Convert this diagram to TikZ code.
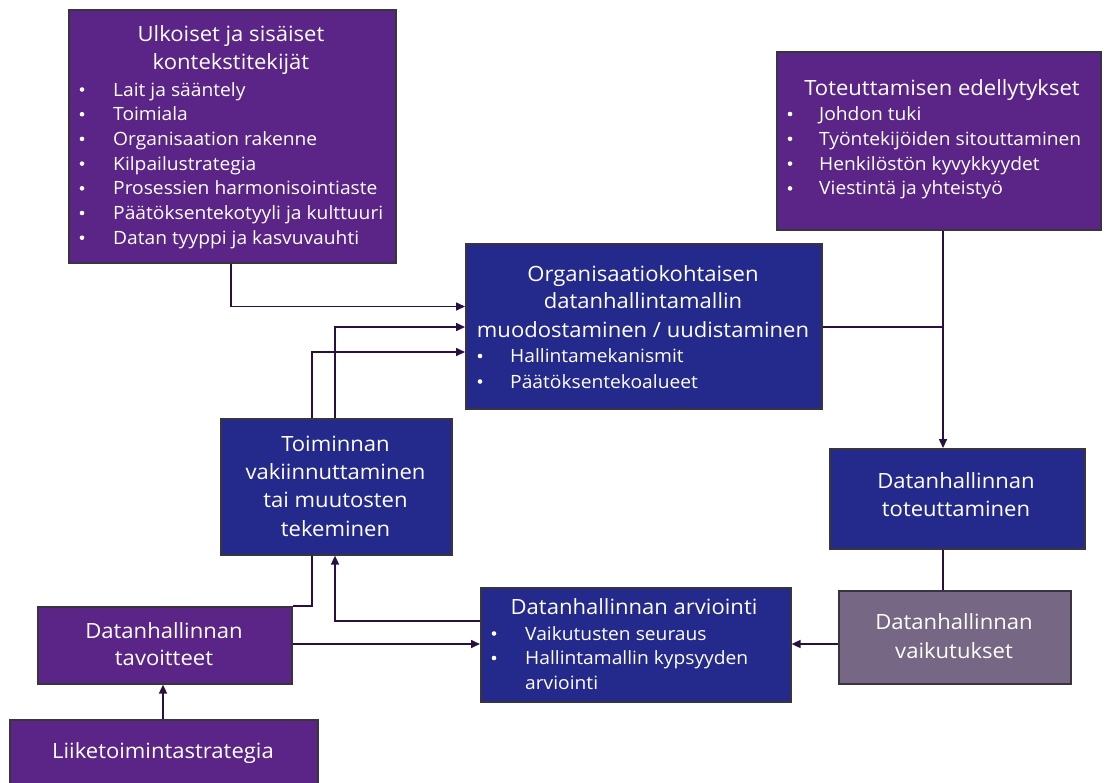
\documentclass[tikz,border=0pt]{standalone}
\usepackage{fontspec}
\setmainfont[Ligatures=NoCommon, FakeStretch=1.05]{Open Sans}
\usetikzlibrary{arrows.meta}
\definecolor{purp}{HTML}{5A2586}
\definecolor{navy}{HTML}{232A8C}
\definecolor{mauve}{HTML}{766784}
\definecolor{rim}{HTML}{3A3440}
\definecolor{wirec}{HTML}{2A1040}
\begin{document}
\begin{tikzpicture}[x=1pt,y=-1pt,
  box/.style={draw=rim, line width=1.6pt, anchor=north west, inner sep=0pt},
  ttl/.style={text=white, font=\fontsize{21}{25}\selectfont, anchor=base, inner sep=0pt},
  itm/.style={text=white, font=\fontsize{18.3}{22}\selectfont, anchor=base west, inner sep=0pt},
  dot/.style={circle, fill=white, inner sep=0pt, minimum size=4.6pt},
  wire/.style={draw=wirec, line width=1.6pt},
  arr/.style={wire, -{Triangle[length=9pt,width=8pt]}}]
\useasboundingbox (0,0) rectangle (1110,782);

% boxes
\node[box, fill=purp, minimum width=327pt, minimum height=253pt] (ctx) at (68,9) {};
\node[box, fill=purp, minimum width=324pt, minimum height=178pt] (pre) at (776,51) {};
\node[box, fill=navy, minimum width=356pt, minimum height=165pt] (model) at (465,243) {};
\node[box, fill=navy, minimum width=231pt, minimum height=136pt] (act) at (220,418) {};
\node[box, fill=navy, minimum width=255pt, minimum height=100pt] (impl) at (829,448) {};
\node[box, fill=mauve, minimum width=232pt, minimum height=93pt] (eff) at (838,590) {};
\node[box, fill=navy, minimum width=310pt, minimum height=114pt] (eval) at (480,587) {};
\node[box, fill=purp, minimum width=254pt, minimum height=77pt] (goal) at (37,606) {};
\node[box, fill=purp, minimum width=308pt, minimum height=70pt] (strat) at (9,719) {};

% context factors
\node[ttl] (ctxt1) at (231,41) {Ulkoiset ja sisäiset};
\node[ttl] (ctxt2) at (231,69) {kontekstitekijät};
\foreach \t [count=\i] in {Lait ja sääntely, Toimiala, Organisaation rakenne, Kilpailustrategia,
    Prosessien harmonisointiaste, Päätöksentekotyyli ja kulttuuri, Datan tyyppi ja kasvuvauhti}{
  \node[dot] (ctxd\i) at (82,{96+24.7*(\i-1)-6.5}) {};
  \node[itm] (ctxi\i) at (113,{96+24.7*(\i-1)}) {\t};
}

% prerequisites
\node[ttl] (pret) at (942,95.5) {Toteuttamisen edellytykset};
\foreach \t [count=\i] in {Johdon tuki, Työntekijöiden sitouttaminen, Henkilöstön kyvykkyydet, Viestintä ja yhteistyö}{
  \node[dot] (pred\i) at (790,{120.5+24.8*(\i-1)-6.5}) {};
  \node[itm] (prei\i) at (819,{120.5+24.8*(\i-1)}) {\t};
}

% governance model
\node[ttl] (modt1) at (643,281) {Organisaatiokohtaisen};
\node[ttl] (modt2) at (643,308.5) {datanhallintamallin};
\node[ttl] (modt3) at (643,337) {muodostaminen / uudistaminen};
\node[dot] (modd1) at (480,356) {};
\node[itm] (modi1) at (510,362.5) {Hallintamekanismit};
\node[dot] (modd2) at (480,381.5) {};
\node[itm] (modi2) at (510,388) {Päätöksentekoalueet};

% operations
\node[ttl] (actt1) at (335.5,451) {Toiminnan};
\node[ttl] (actt2) at (335.5,479) {vakiinnuttaminen};
\node[ttl] (actt3) at (335.5,507.5) {tai muutosten};
\node[ttl] (actt4) at (335.5,536) {tekeminen};

% implementation
\node[ttl] (impt1) at (956,488) {Datanhallinnan};
\node[ttl] (impt2) at (956,516) {toteuttaminen};

% effects
\node[ttl] (efft1) at (954,629) {Datanhallinnan};
\node[ttl] (efft2) at (954,658) {vaikutukset};

% evaluation
\node[ttl] (evat) at (634,614) {Datanhallinnan arviointi};
\node[dot] (evad1) at (494,633.5) {};
\node[itm] (evai1) at (525,640) {Vaikutusten seuraus};
\node[dot] (evad2) at (494,658) {};
\node[itm] (evai2) at (525,664.5) {Hallintamallin kypsyyden};
\node[itm] (evai3) at (525,689) {arviointi};

% goals and strategy
\node[ttl] (goat1) at (164,638) {Datanhallinnan};
\node[ttl] (goat2) at (164,665) {tavoitteet};
\node[ttl] (strt) at (163,758) {Liiketoimintastrategia};

% connectors
\draw[arr] (ctx.south west -| 231,0) |- (model.west |- 0,306.5);
\draw[arr] (act.north west -| 335,0) |- (model.west |- 0,327);
\draw[arr] (act.north west -| 312,0) |- (model.west |- 0,352);
\draw[wire] (model.east |- 0,327) -- (943,327);
\draw[arr] (pre.south west -| 943,0) -- (impl.north west -| 943,0);
\draw[wire] (impl.south west -| 943,0) -- (eff.north west -| 943,0);
\draw[arr] (eff.west |- 0,644) -- (eval.east |- 0,644);
\draw[arr] (goal.east |- 0,644) -- (eval.west |- 0,644);
\draw[arr] (eval.west |- 0,621) -| (act.south west -| 335,0);
\draw[wire] (goal.north east) -| (act.south west -| 312,0);
\draw[arr] (strat.north west -| 163,0) -- (goal.south west -| 163,0);
\end{tikzpicture}
\end{document}
